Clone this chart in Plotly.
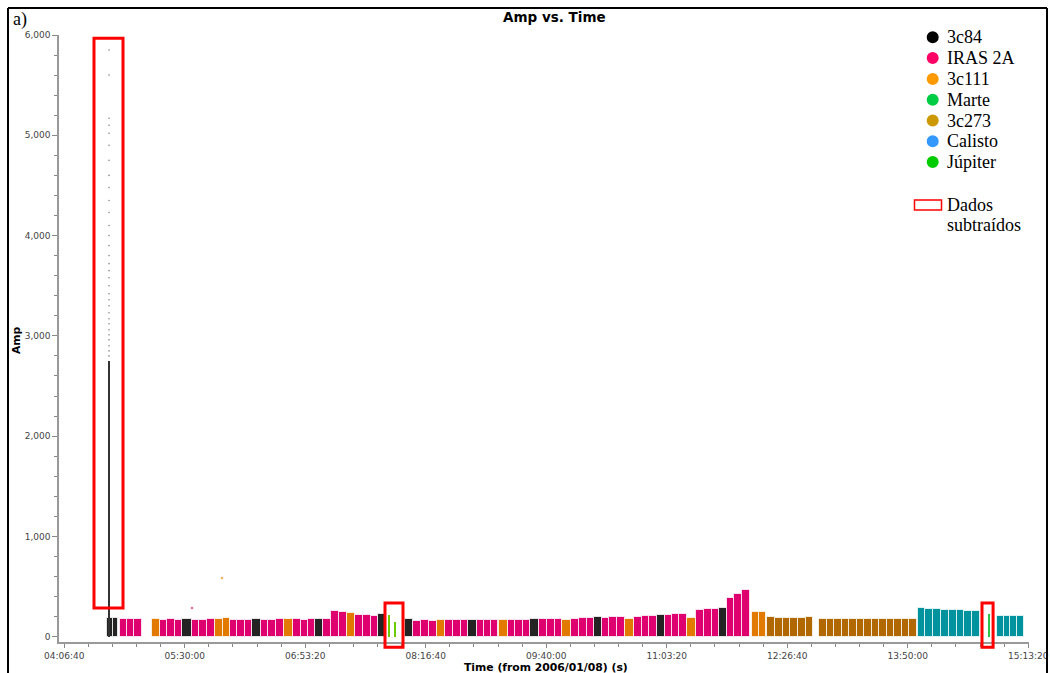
import plotly.graph_objects as go

# ---------------- data ----------------
sources = ["3c84", "IRAS 2A", "3c111", "Marte", "3c273", "Calisto", "Júpiter"]
legend_colors = ["#000000", "#ff0066", "#ff9900", "#00cc44", "#cc9900", "#3399ff", "#00cc00"]
plot_colors = {"3c84": "#232323", "IRAS 2A": "#df0070", "3c111": "#e27a00", "Marte": "#2ec24a",
               "3c273": "#b26800", "Calisto": "#00939e", "Júpiter": "#6ccc00"}

# scan blocks: source, start, end, amplitude of each sub-scan
blk_src = ["3c84", "IRAS 2A", "3c111", "IRAS 2A", "3c84", "IRAS 2A", "3c111", "IRAS 2A", "3c84",
           "IRAS 2A", "3c111", "IRAS 2A", "3c84", "IRAS 2A", "3c111", "IRAS 2A", "3c84",
           "3c84", "IRAS 2A", "3c111", "IRAS 2A", "3c84", "IRAS 2A", "3c111", "IRAS 2A", "3c84",
           "IRAS 2A", "3c111", "IRAS 2A", "3c84", "IRAS 2A", "3c111", "IRAS 2A", "3c84", "IRAS 2A",
           "3c111", "IRAS 2A", "3c84", "IRAS 2A", "3c111", "3c273", "3c273", "Calisto", "Calisto"]
blk_start = ["04:36:03", "04:45:15", "05:07:10", "05:12:55", "05:28:20", "05:34:50", "05:50:57",
             "06:01:19", "06:16:44", "06:22:33", "06:38:39", "06:45:05", "07:00:06", "07:05:50",
             "07:22:01", "07:27:45", "07:43:52", "08:02:20", "08:08:04", "08:24:15", "08:29:59",
             "08:46:06", "08:51:55", "09:07:20", "09:13:21", "09:28:46", "09:35:12", "09:51:06",
             "09:57:07", "10:13:14", "10:18:21", "10:34:28", "10:40:41", "10:56:23", "11:02:07",
             "11:17:32", "11:23:33", "11:39:40", "11:44:47", "12:02:04", "12:12:52", "12:48:49",
             "13:56:52", "14:51:29"]
blk_end = ["04:44:05", "05:00:16", "05:12:55", "05:28:20", "05:34:50", "05:50:57", "06:01:19",
           "06:16:44", "06:22:33", "06:38:39", "06:45:05", "07:00:06", "07:05:50", "07:22:01",
           "07:27:45", "07:43:52", "07:48:30", "08:08:04", "08:24:15", "08:29:59", "08:46:06",
           "08:51:55", "09:06:51", "09:13:21", "09:28:46", "09:35:12", "09:51:06", "09:57:07",
           "10:13:14", "10:18:21", "10:34:28", "10:40:41", "10:56:23", "11:02:07", "11:17:07",
           "11:23:33", "11:39:40", "11:44:47", "12:00:54", "12:11:58", "12:44:40", "13:56:10",
           "14:39:57", "15:10:22"]
blk_amps = [[185, 190], [172, 175, 172], [172], [168, 172, 170], [178], [168, 170, 172], [178, 182],
            [168, 170, 168], [172], [170, 168, 172], [172], [172, 170, 172], [180], [172, 255, 245],
            [232], [215, 212, 210], [225], [172], [160, 162, 160], [165], [162, 163, 162], [168],
            [165, 165, 168], [165], [168, 170, 170], [180], [172, 175, 175], [170], [180, 182, 185],
            [192], [188, 192, 195], [180], [198, 202, 205], [215], [215, 222, 230], [185],
            [265, 272, 275], [285], [385, 430, 470], [245, 250],
            [192, 188, 190, 188, 190, 192],
            [178, 176, 178, 175, 177, 176, 178, 175, 174, 176, 175, 173, 175],
            [282, 278, 272, 268, 265, 262, 258, 255],
            [210, 208, 210, 205]]

# short (removed) scans drawn as thin lines
short_src = ["Júpiter", "Júpiter", "Marte"]
short_time = ["07:51:16", "07:55:37", "14:46:23"]
short_amp = [215, 150, 225]
short_dur = 45

# removed 3c84 spike
spike_time = "04:37:39"
spike_solid = 2750
spike_points = [2800, 2850, 2900, 2960, 3010, 3060, 3120, 3170, 3230, 3300, 3360, 3420, 3500,
                3580, 3650, 3720, 3800, 3900, 4000, 4100, 4230, 4350, 4480, 4600, 4750, 4900,
                5020, 5100, 5170, 5600, 5850]

# isolated outliers
out_src = ["IRAS 2A", "3c111"]
out_time = ["05:35:02", "05:55:47"]
out_amp = [285, 585]

# red boxes (subtracted data): time range, amplitude range
box_t0 = ["04:27:16", "07:48:30", "14:41:20"]
box_t1 = ["04:47:20", "08:00:57", "14:49:00"]
box_a0 = [286, -105, -105]
box_a1 = [5968, 336, 336]

xtick_vals = ["04:06:40", "05:30:00", "06:53:20", "08:16:40", "09:40:00", "11:03:20",
              "12:26:40", "13:50:00", "15:13:20"]

# ---------------- helpers ----------------
def hms(s):
    h, m, sec = map(int, s.split(":"))
    return h * 3600 + m * 60 + sec

W, H = 1050, 673
L, R, T, B = 59, 1029, 35, 642
XMIN, XMAX = 14584, 54830
YMIN, YMAX = -53, 6000

def px(xp):
    return (xp - L) / (R - L)

def py(yp):
    return (B - yp) / (B - T)

def tx(t):
    return (t - XMIN) / (XMAX - XMIN)

def ay(a):
    return (a - YMIN) / (YMAX - YMIN)

fig = go.Figure()

# bars per source
bars = {s: {"x": [], "w": [], "y": []} for s in sources}
for s, t0, t1, amps in zip(blk_src, blk_start, blk_end, blk_amps):
    a, b = hms(t0), hms(t1)
    n = len(amps)
    d = (b - a) / n
    for i, v in enumerate(amps):
        bars[s]["x"].append(a + d * (i + 0.5))
        bars[s]["w"].append(d)
        bars[s]["y"].append(v)

for s in sources:
    if bars[s]["x"]:
        fig.add_trace(go.Bar(x=bars[s]["x"], y=bars[s]["y"], width=bars[s]["w"], name=s,
                             marker=dict(color=plot_colors[s],
                                         line=dict(color="rgba(255,255,255,0.75)", width=1)),
                             showlegend=False, hoverinfo="skip"))

for s, t, v in zip(short_src, short_time, short_amp):
    fig.add_trace(go.Bar(x=[hms(t)], y=[v], width=[short_dur], name=s,
                         marker=dict(color=plot_colors[s], line=dict(width=0)),
                         showlegend=False, hoverinfo="skip"))

# spike
fig.add_trace(go.Bar(x=[hms(spike_time)], y=[spike_solid], width=[55],
                     marker=dict(color="#333333", line=dict(width=0)),
                     showlegend=False, hoverinfo="skip"))
fig.add_trace(go.Scatter(x=[hms(spike_time)] * len(spike_points), y=spike_points, mode="markers",
                         marker=dict(color="#8a8a8a", size=1.6), showlegend=False, hoverinfo="skip"))

for s, t, v in zip(out_src, out_time, out_amp):
    fig.add_trace(go.Scatter(x=[hms(t)], y=[v], mode="markers",
                             marker=dict(color=plot_colors[s], size=2.5, opacity=0.6),
                             showlegend=False, hoverinfo="skip"))

shapes = []
for t0, t1, a0, a1 in zip(box_t0, box_t1, box_a0, box_a1):
    shapes.append(dict(type="rect", xref="paper", yref="paper",
                       x0=tx(hms(t0)), x1=tx(hms(t1)), y0=ay(a0), y1=ay(a1),
                       line=dict(color="#ff0000", width=3), fillcolor="rgba(0,0,0,0)"))

# outer frame
shapes.append(dict(type="line", xref="paper", yref="paper", x0=px(8), x1=px(1047), y0=py(8), y1=py(8),
                   line=dict(color="#000000", width=2)))
shapes.append(dict(type="line", xref="paper", yref="paper", x0=px(8), x1=px(8), y0=py(8), y1=py(690),
                   line=dict(color="#000000", width=2)))
shapes.append(dict(type="line", xref="paper", yref="paper", x0=px(1047), x1=px(1047), y0=py(8), y1=py(690),
                   line=dict(color="#000000", width=2)))

annotations = []
# custom legend
leg_y0, leg_dy = 37.3, 20.8
for i, (s, c) in enumerate(zip(sources, legend_colors)):
    yy = leg_y0 + i * leg_dy
    shapes.append(dict(type="circle", xref="paper", yref="paper",
                       x0=px(926.7), x1=px(938.7), y0=py(yy - 6), y1=py(yy + 6),
                       line=dict(width=0), fillcolor=c))
    annotations.append(dict(text=s, xref="paper", yref="paper", x=px(945), y=py(yy),
                            xanchor="left", yanchor="middle", showarrow=False,
                            font=dict(family="Liberation Serif", size=18, color="#000000")))
shapes.append(dict(type="rect", xref="paper", yref="paper", x0=px(914.5), x1=px(941.5),
                   y0=py(210), y1=py(200), line=dict(color="#ff0000", width=1.5),
                   fillcolor="rgba(0,0,0,0)"))
for txt, yy in zip(["Dados", "subtraídos"], [204.5, 225]):
    annotations.append(dict(text=txt, xref="paper", yref="paper", x=px(945), y=py(yy),
                            xanchor="left", yanchor="middle", showarrow=False,
                            font=dict(family="Liberation Serif", size=18, color="#000000")))

annotations.append(dict(text="<b>Amp vs. Time</b>", xref="paper", yref="paper", x=px(554), y=py(17),
                        xanchor="center", yanchor="middle", showarrow=False,
                        font=dict(family="DejaVu Sans", size=13.5, color="#000000")))
annotations.append(dict(text="a)", xref="paper", yref="paper", x=px(11), y=py(19),
                        xanchor="left", yanchor="middle", showarrow=False,
                        font=dict(family="Liberation Serif", size=18, color="#000000")))
annotations.append(dict(text="<b>Time (from 2006/01/08) (s)</b>", xref="paper", yref="paper",
                        x=px(546), y=py(667.5), xanchor="center", yanchor="middle", showarrow=False,
                        font=dict(family="DejaVu Sans", size=10.8, color="#000000")))
annotations.append(dict(text="<b>Amp</b>", xref="paper", yref="paper", textangle=-90,
                        x=px(16), y=py(340), xanchor="center", yanchor="middle", showarrow=False,
                        font=dict(family="DejaVu Sans", size=10.8, color="#000000")))

fig.update_layout(
    width=W, height=H, autosize=False,
    margin=dict(l=L, r=W - R, t=T, b=H - B, pad=0, autoexpand=False),
    plot_bgcolor="white", paper_bgcolor="white",
    barmode="overlay", bargap=0,
    shapes=shapes, annotations=annotations,
    font=dict(family="DejaVu Sans", size=9, color="#444444"),
)
fig.update_xaxes(range=[XMIN, XMAX], tickmode="array", tickvals=[hms(v) for v in xtick_vals],
                 ticktext=xtick_vals, ticks="outside", ticklen=4, tickcolor="#888888",
                 automargin=False,
                 showline=True, linecolor="#999999", linewidth=1.5, showgrid=False, zeroline=False,
                 tickfont=dict(family="DejaVu Sans", size=9, color="#444444"),
                 minor=dict(tickmode="linear", tick0=hms(xtick_vals[0]), dtick=1000, ticklen=3,
                            tickcolor="#888888", ticks="outside", showgrid=False))
fig.update_yaxes(range=[YMIN, YMAX], tickmode="linear", tick0=0, dtick=1000, tickformat=",d",
                 ticks="outside", ticklen=5, tickcolor="#888888", automargin=False,
                 showline=True, linecolor="#999999", linewidth=1.5, showgrid=False, zeroline=False,
                 tickfont=dict(family="DejaVu Sans", size=9, color="#444444"),
                 minor=dict(tickmode="linear", tick0=0, dtick=200, ticklen=3, tickcolor="#888888",
                            ticks="outside", showgrid=False))

fig.write_html("out.html", config={"responsive": False})
